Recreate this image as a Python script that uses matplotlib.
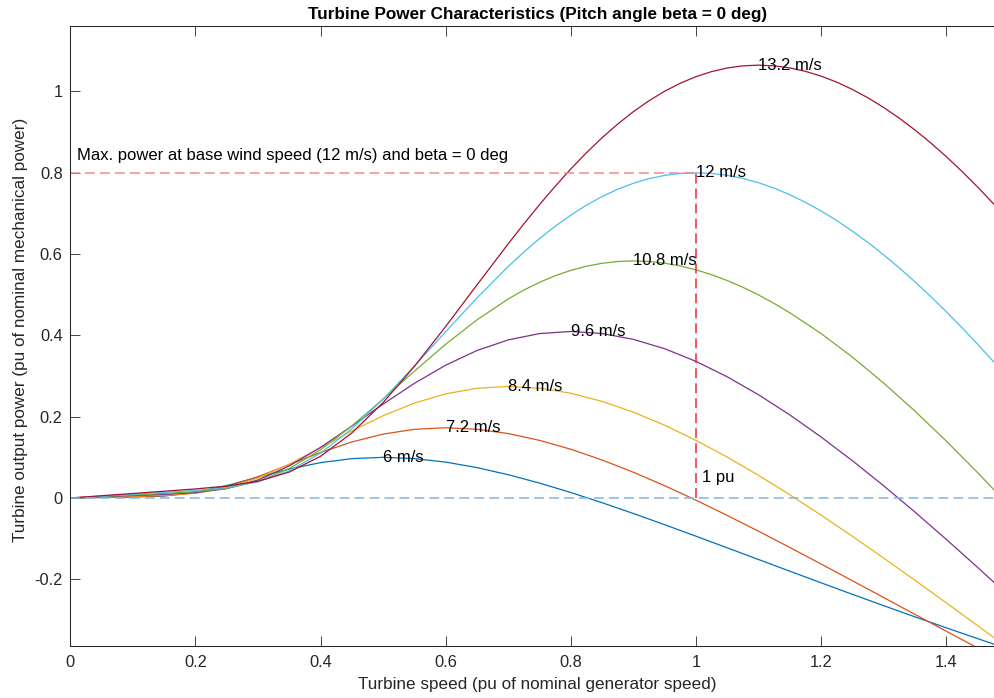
#!/usr/bin/env python3

import matplotlib
matplotlib.use("Agg")
import matplotlib.pyplot as plt


plt.rcParams["font.family"] = ["Liberation Sans", "DejaVu Sans"]
plt.rcParams["axes.unicode_minus"] = False

# turbine speed (pu of nominal generator speed)
speed = [
    0.0, 0.05, 0.1, 0.15, 0.2, 0.25, 0.3, 0.35, 0.4, 0.45,
    0.5, 0.55, 0.6, 0.65, 0.7, 0.75, 0.8, 0.85, 0.9, 0.95,
    1.0, 1.05, 1.1, 1.15, 1.2, 1.25, 1.3, 1.35, 1.4, 1.45, 1.5,
]
# denser reading for the strongly curved upper curves
speed_fine = [
    0.0, 0.05, 0.1, 0.15, 0.2, 0.25, 0.3, 0.35, 0.4, 0.45, 0.5, 0.55, 0.6, 0.65, 0.7,
    0.725, 0.75, 0.775, 0.8, 0.825, 0.85, 0.875, 0.9, 0.925, 0.95, 0.975,
    1.0, 1.025, 1.05, 1.075, 1.1, 1.125, 1.15, 1.175, 1.2, 1.225, 1.25,
    1.275, 1.3, 1.325, 1.35, 1.375, 1.4, 1.425, 1.45, 1.475, 1.5,
]
speed_10_8 = [
    0.0, 0.05, 0.1, 0.15, 0.2, 0.25, 0.3, 0.35, 0.4, 0.45, 0.5, 0.55, 0.6, 0.65, 0.7,
    0.725, 0.75, 0.775, 0.8, 0.825, 0.85, 0.875, 0.9, 0.925, 0.95, 0.975,
    1.0, 1.025, 1.05, 1.075, 1.1, 1.125,
    1.15, 1.2, 1.25, 1.3, 1.35, 1.4, 1.45, 1.5,
]

# turbine output power (pu), one list per wind speed
p_6 = [
    0.0, 0.0012, 0.0023, 0.0050, 0.0138, 0.0304, 0.0511, 0.0712, 0.0870, 0.0968,
    0.1000, 0.0969, 0.0883, 0.0748, 0.0573, 0.0367, 0.0135, -0.0116, -0.0381, -0.0657,
    -0.0939, -0.1225, -0.1513, -0.1800, -0.2086, -0.2369, -0.2648, -0.2923, -0.3193, -0.3457, -0.3719,
]
p_7_2 = [
    0.0, 0.0017, 0.0033, 0.0055, 0.0121, 0.0278, 0.0525, 0.0823, 0.1120, 0.1378,
    0.1572, 0.1689, 0.1728, 0.1691, 0.1585, 0.1418, 0.1199, 0.0935, 0.0634, 0.0303,
    -0.0053, -0.0428, -0.0817, -0.1216, -0.1623, -0.2034, -0.2448, -0.2862, -0.3276, -0.3687, -0.4093,
]
p_8_4 = [
    0.0, 0.0022, 0.0045, 0.0069, 0.0119, 0.0247, 0.0490, 0.0834, 0.1237, 0.1648,
    0.2024, 0.2334, 0.2562, 0.2699, 0.2744, 0.2701, 0.2576, 0.2377, 0.2112, 0.1791,
    0.1419, 0.1006, 0.0558, 0.0081, -0.0421, -0.0941, -0.1476, -0.2023, -0.2577, -0.3137, -0.3700,
]
p_9_6 = [
    0.0, 0.0029, 0.0059, 0.0089, 0.0131, 0.0231, 0.0443, 0.0788, 0.1245, 0.1769,
    0.2309, 0.2820, 0.3267, 0.3628, 0.3889, 0.4045, 0.4096, 0.4047, 0.3903, 0.3672,
    0.3362, 0.2982, 0.2541, 0.2045, 0.1502, 0.0919, 0.0302, -0.0344, -0.1015, -0.1703, -0.2407,
]
p_10_8 = [
    0.0, 0.0037, 0.0074, 0.0112, 0.0155, 0.0235, 0.0409, 0.0724, 0.1187, 0.1772,
    0.2434, 0.3119, 0.3781, 0.4382, 0.4896,
    0.5115, 0.5305, 0.5467, 0.5599, 0.5702, 0.5774, 0.5818, 0.5832, 0.5818, 0.5776, 0.5708,
    0.5613, 0.5494, 0.5350, 0.5184, 0.4996, 0.4787,
    0.4558, 0.4046, 0.3467, 0.2829, 0.2139, 0.1404, 0.0629, -0.0178,
]
p_12 = [
    0.0, 0.0046, 0.0092, 0.0138, 0.0186, 0.0257, 0.0398, 0.0669, 0.1104, 0.1702,
    0.2431, 0.3245, 0.4091, 0.4920, 0.5694,
    0.6050, 0.6381, 0.6685, 0.6959, 0.7203, 0.7415, 0.7595, 0.7742, 0.7855, 0.7936, 0.7984,
    0.8000, 0.7985, 0.7938, 0.7862, 0.7756, 0.7622, 0.7461, 0.7274, 0.7062, 0.6826, 0.6566,
    0.6286, 0.5983, 0.5662, 0.5321, 0.4963, 0.4587, 0.4195, 0.3789, 0.3368, 0.2934,
]
p_13_2 = [
    0.0, 0.0056, 0.0111, 0.0167, 0.0223, 0.0292, 0.0411, 0.0638, 0.1026, 0.1599,
    0.2347, 0.3236, 0.4218, 0.5240, 0.6253,
    0.6743, 0.7216, 0.7667, 0.8094, 0.8493, 0.8862, 0.9199, 0.9503, 0.9772, 1.0006, 1.0203,
    1.0364, 1.0489, 1.0578, 1.0631, 1.0648, 1.0631, 1.0580, 1.0496, 1.0379, 1.0231, 1.0052,
    0.9844, 0.9608, 0.9345, 0.9055, 0.8740, 0.8401, 0.8039, 0.7655, 0.7250, 0.6824,
]

wind_labels = ["6 m/s", "7.2 m/s", "8.4 m/s", "9.6 m/s", "10.8 m/s", "12 m/s", "13.2 m/s"]
# where each label sits (speed and power at the peak of its curve)
peak_speed = [0.5, 0.6, 0.7, 0.8, 0.9, 1.0, 1.1]
peak_power = [0.1, 0.1728, 0.2744, 0.4096, 0.5832, 0.8, 1.0648]

base_speed = 1.0
max_power = 0.8

x_ticks = [0, 0.2, 0.4, 0.6, 0.8, 1.0, 1.2, 1.4]
x_ticklabels = ["0", "0.2", "0.4", "0.6", "0.8", "1", "1.2", "1.4"]
y_ticks = [-0.2, 0, 0.2, 0.4, 0.6, 0.8, 1.0]
y_ticklabels = ["-0.2", "0", "0.2", "0.4", "0.6", "0.8", "1"]

colors = ["#0072BD", "#D95319", "#EDB120", "#7E2F8E", "#77AC30", "#4DBEEE", "#A2142F"]
dark = "#262626"

fig = plt.figure(figsize=(9.95, 6.98), dpi=100)
# right edge of the axes runs just past the picture, as in the original crop
ax = fig.add_axes([70.3 / 995, 52 / 698, 933.7 / 995, 620 / 698])

curves = [
    (speed, p_6), (speed, p_7_2), (speed, p_8_4), (speed, p_9_6),
    (speed_10_8, p_10_8), (speed_fine, p_12), (speed_fine, p_13_2),
]
for (x, power), color in zip(curves, colors):
    ax.plot(x, power, color=color, lw=0.9)

dash = (0, (6.5, 3.3))
ax.plot([0, base_speed], [max_power, max_power], color="#F28A8A", lw=1.1, linestyle=dash)
ax.plot([base_speed, base_speed], [0, max_power], color="#F02828", lw=1.1, linestyle=dash)
ax.plot([0, speed[-1]], [0, 0], color="#7DB7E8", lw=1.1, linestyle=dash)

for label, x, y in zip(wind_labels, peak_speed, peak_power):
    ax.text(x, y, label, fontsize=12, ha="left", va="center", color="black")

ax.text(0.01, 0.842, "Max. power at base wind speed (12 m/s) and beta = 0 deg",
        fontsize=12, ha="left", va="center", color="black")
ax.text(1.01, 0.05, "1 pu", fontsize=12, ha="left", va="center", color="black")

ax.set_xlim(0, 1.4925)
ax.set_ylim(-0.3641, 1.1611)
ax.set_xticks(x_ticks)
ax.set_xticklabels(x_ticklabels)
ax.set_yticks(y_ticks)
ax.set_yticklabels(y_ticklabels)

ax.tick_params(direction="in", length=7, width=0.6, top=True, right=True,
               colors=dark, labelsize=11.8)
ax.tick_params(axis="x", pad=6.5)
ax.tick_params(axis="y", pad=5.5)
for spine in ax.spines.values():
    spine.set_color(dark)
    spine.set_linewidth(0.75)

ax.set_title("Turbine Power Characteristics (Pitch angle beta = 0 deg)",
             fontsize=12.3, fontweight="bold", color="black", pad=4.7)
ax.set_xlabel("Turbine speed (pu of nominal generator speed)", fontsize=12.3, color=dark)
ax.set_ylabel("Turbine output power (pu of nominal mechanical power)", fontsize=12.3, color=dark)
ax.xaxis.set_label_coords(0.5, -0.05)
ax.yaxis.set_label_coords(-0.0453, 0.51)

fig.savefig("out.png", dpi=100)
plt.close(fig)
